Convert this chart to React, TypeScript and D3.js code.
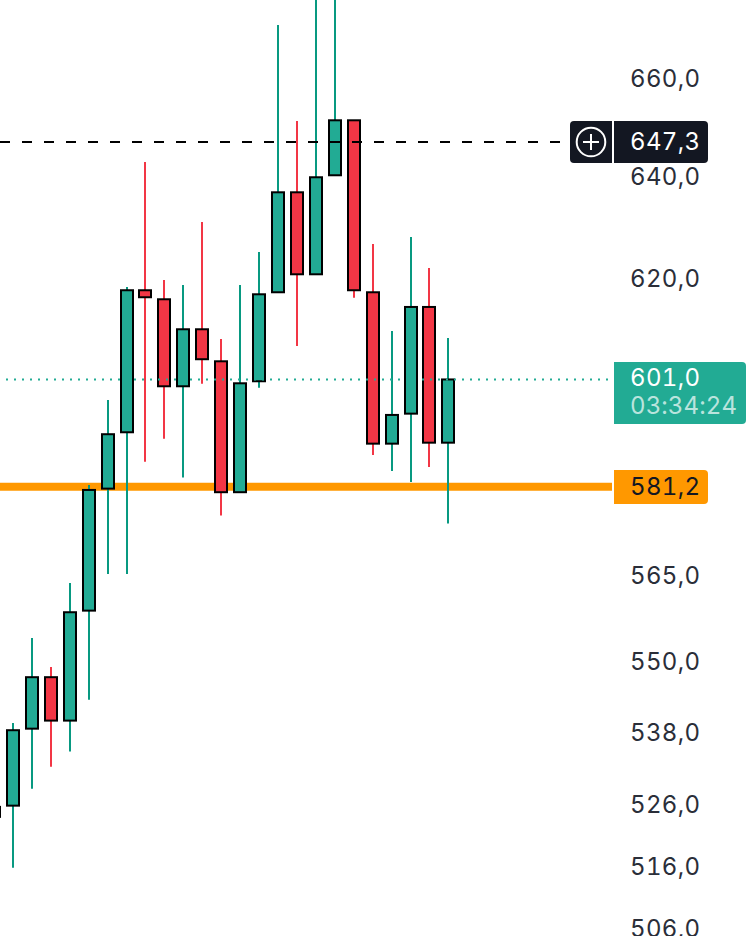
import React, { useEffect, useRef } from 'react';
import * as d3 from 'd3';

const WIDTH = 748;
const HEIGHT = 936;

// bar -1 is the one cut off by the left edge
const bars = [-1, 0, 1, 2, 3, 4, 5, 6, 7, 8, 9, 10, 11, 12, 13, 14, 15, 16, 17, 18, 19, 20, 21, 22, 23];
const opens = [524.21, 526.05, 538.86, 547.6, 540.22, 559.11, 580.84, 591.16, 617.99, 616.25, 599.72, 610.5, 604.42, 580.19, 600.66, 617.6, 637.2, 621.08, 640.6, 651.7, 617.6, 589.06, 594.61, 614.77, 589.24];
const highs = [525.85, 539.83, 554.36, 549.36, 563.97, 581.51, 597.16, 618.62, 643.27, 619.98, 619.01, 631.32, 608.66, 619.01, 625.43, 671.41, 651.56, 680.91, 680.91, 651.7, 626.99, 610.18, 628.37, 622.31, 608.84];
const lows = [524.21, 515.96, 528.85, 532.5, 535.01, 543.77, 565.56, 565.56, 585.76, 589.98, 582.84, 600.21, 575.96, 580.19, 599.46, 617.6, 607.32, 621.08, 640.6, 616.55, 586.98, 584.06, 582.05, 584.79, 574.53];
const closes = [525.85, 538.6, 547.6, 540.22, 558.83, 580.6, 590.8, 617.99, 616.64, 599.72, 610.5, 604.81, 580.19, 600.28, 617.21, 637.2, 621.08, 640.2, 651.7, 617.99, 589.06, 594.37, 614.77, 589.24, 601.0];

const axisTicks = [660, 640, 620, 600, 580, 565, 550, 538, 526, 516, 506];
const lastPrice = 601.0;
const countdown = '03:34:24';
const crosshairPrice = 647.3;
const alertPrice = 581.2;

const GREEN = '#22ab94';
const GREEN_WICK = '#089981';
const RED = '#f23645';
const ORANGE = '#ff9800';
const DARK = '#131722';
const FONT = 'Inter, sans-serif';
const FONT_SIZE = 24;
const TRACKING = 0.35;

const fmt = (v: number) => v.toFixed(1).replace('.', ',');

// rect with only the left or right corners rounded
const sideBox = (x: number, y: number, w: number, h: number, r: number, side: 'l' | 'r' | 'both') => {
  const p = d3.path();
  const rl = side === 'r' ? 0 : r;
  const rr = side === 'l' ? 0 : r;
  p.moveTo(x + rl, y);
  p.lineTo(x + w - rr, y);
  p.arcTo(x + w, y, x + w, y + rr, rr);
  p.lineTo(x + w, y + h - rr);
  p.arcTo(x + w, y + h, x + w - rr, y + h, rr);
  p.lineTo(x + rl, y + h);
  p.arcTo(x, y + h, x, y + h - rl, rl);
  p.lineTo(x, y + rl);
  p.arcTo(x, y, x + rl, y, rl);
  p.closePath();
  return p.toString();
};

const App: React.FC = () => {
  const svgRef = useRef<SVGSVGElement | null>(null);

  useEffect(() => {
    const svg = d3.select(svgRef.current);
    svg.selectAll('*').remove();

    // price axis is logarithmic
    const y = d3.scaleLog().domain([506, 660]).range([930, 79.8]);
    const x = d3.scaleLinear().domain([0, 23]).range([13.41, 448.92]);
    const cx = (b: number) => Math.floor(x(b));

    const label = (sel: any, px: number, py: number, fill: string, text: string, tracking = TRACKING) =>
      sel.append('text')
        .attr('x', px)
        .attr('y', py)
        .attr('dy', '0.36em')
        .attr('font-family', FONT)
        .attr('font-size', FONT_SIZE)
        .attr('letter-spacing', tracking)
        .style('font-variant-numeric', 'tabular-nums')
        .attr('fill', fill)
        .text(text);

    // axis labels go first so the price tags can sit on them
    const axisG = svg.append('g');
    axisTicks.forEach((d) => label(axisG, 630, y(d) - 1.5, '#2a2e39', fmt(d)));

    // alert line
    svg.append('line')
      .attr('x1', 0)
      .attr('x2', 612)
      .attr('y1', y(alertPrice))
      .attr('y2', y(alertPrice))
      .attr('stroke', ORANGE)
      .attr('stroke-width', 8);

    const candles = svg.append('g');
    const isUp = (i: number) => closes[i] >= opens[i];

    candles.selectAll('line')
      .data(bars)
      .enter()
      .append('line')
      .attr('x1', (d) => cx(d))
      .attr('x2', (d) => cx(d))
      .attr('y1', (_, i) => y(highs[i]))
      .attr('y2', (_, i) => y(lows[i]))
      .attr('stroke', (_, i) => (isUp(i) ? GREEN_WICK : RED))
      .attr('stroke-width', 2);

    candles.selectAll('rect')
      .data(bars)
      .enter()
      .append('rect')
      .attr('x', (d) => cx(d) - 6)
      .attr('width', 12)
      .attr('y', (_, i) => y(Math.max(opens[i], closes[i])))
      .attr('height', (_, i) => y(Math.min(opens[i], closes[i])) - y(Math.max(opens[i], closes[i])))
      .attr('fill', (_, i) => (isUp(i) ? GREEN : RED))
      .attr('stroke', '#000')
      .attr('stroke-width', 2);

    // crosshair
    svg.append('line')
      .attr('x1', 0)
      .attr('x2', 560)
      .attr('y1', y(crosshairPrice))
      .attr('y2', y(crosshairPrice))
      .attr('stroke', '#000')
      .attr('stroke-width', 2)
      .attr('stroke-dasharray', '10 12');

    // last price line
    svg.append('line')
      .attr('x1', 6)
      .attr('x2', 608)
      .attr('y1', y(lastPrice))
      .attr('y2', y(lastPrice))
      .attr('stroke', GREEN)
      .attr('stroke-width', 2)
      .attr('stroke-dasharray', '2 6');

    // crosshair tag
    const tagY = y(crosshairPrice);
    svg.append('path').attr('d', sideBox(570, tagY - 21, 42, 42, 4, 'l')).attr('fill', DARK);
    svg.append('path').attr('d', sideBox(614, tagY - 21, 94, 42, 4, 'r')).attr('fill', DARK);
    svg.append('circle')
      .attr('cx', 591)
      .attr('cy', tagY)
      .attr('r', 14.3)
      .attr('fill', 'none')
      .attr('stroke', '#fff')
      .attr('stroke-width', 2);
    svg.append('path')
      .attr('d', `M583,${tagY}H599M591,${tagY - 8}V${tagY + 8}`)
      .attr('stroke', '#fff')
      .attr('stroke-width', 2);
    label(svg, 630, tagY - 1, '#fff', fmt(crosshairPrice));

    // last price tag
    svg.append('path').attr('d', sideBox(614, 362, 132, 62, 4, 'r')).attr('fill', GREEN);
    label(svg, 630, 377, '#fff', fmt(lastPrice));
    label(svg, 630, 405, 'rgba(255,255,255,0.7)', countdown, 0.1);

    // alert tag
    svg.append('path').attr('d', sideBox(614, 470, 94, 34, 4, 'r')).attr('fill', ORANGE);
    label(svg, 630, 486, DARK, fmt(alertPrice));
  }, []);

  return (
    <svg
      ref={svgRef}
      width={WIDTH}
      height={HEIGHT}
      style={{ position: 'absolute', left: 0, top: 0, background: '#fff' }}
    />
  );
};

export default App;
